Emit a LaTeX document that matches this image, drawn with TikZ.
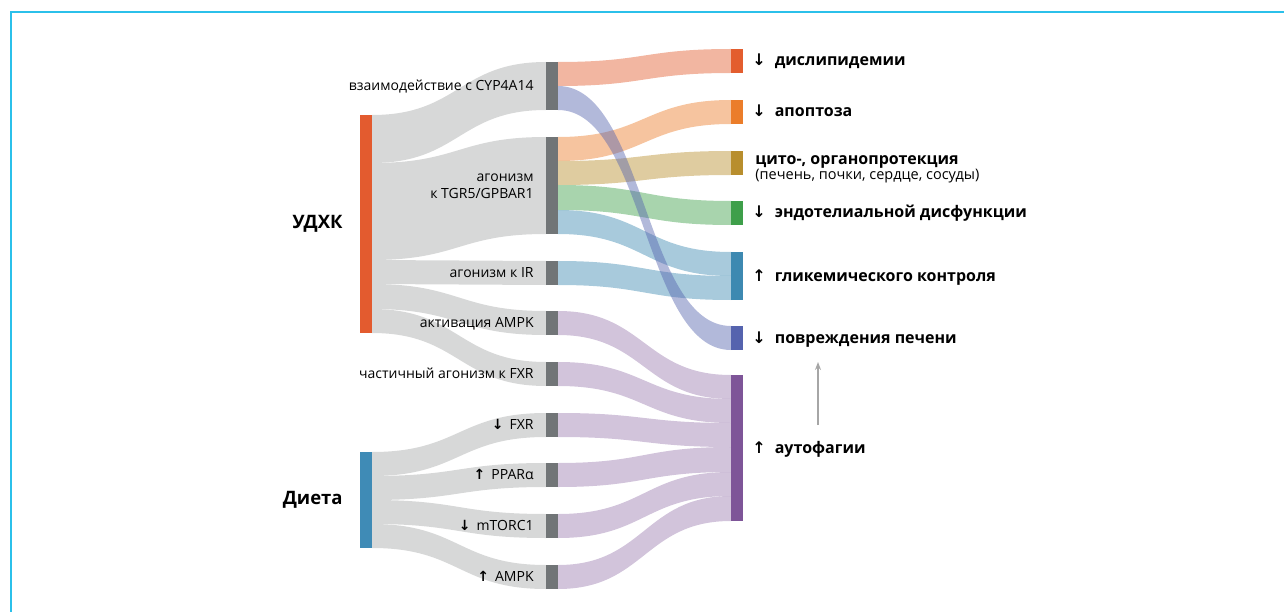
\documentclass[tikz,border=0pt]{standalone}
\usepackage{fontspec}
\setmainfont{Open Sans}
\newfontfamily\arrfont{DejaVu Sans}
\usetikzlibrary{positioning,arrows.meta}

\definecolor{udxkc}{HTML}{E35B2F}
\definecolor{dietc}{HTML}{3F8BB6}
\definecolor{midc}{HTML}{717577}
\definecolor{flowgrey}{HTML}{D7D8D8}
\definecolor{dysc}{HTML}{E35D2E}
\definecolor{apoc}{HTML}{EB7D2A}
\definecolor{cytoc}{HTML}{B88E2D}
\definecolor{endoc}{HTML}{3E9F4A}
\definecolor{glycc}{HTML}{3D89B1}
\definecolor{liverc}{HTML}{5563AE}
\definecolor{autoc}{HTML}{7E5598}
\definecolor{framec}{HTML}{2BC0EA}

\newcommand{\dn}{{\arrfont\bfseries ↓}}
\newcommand{\up}{{\arrfont\bfseries ↑}}
% полоса потока: стиль, x1, y1 верх, y1 низ, x2, y2 верх, y2 низ
\newcommand{\band}[7]{%
  \fill[#1] (#2,#3) .. controls ({(#2+#5)/2},#3) and ({(#2+#5)/2},#6) .. (#5,#6)
    -- (#5,#7) .. controls ({(#2+#5)/2},#7) and ({(#2+#5)/2},#4) .. (#2,#4) -- cycle;}

\tikzset{
  bar/.style={rectangle, inner sep=0pt, minimum width=12pt, minimum height=24pt, fill=#1},
  greyflow/.style={fill=flowgrey},
  cflow/.style={fill=#1, fill opacity=0.45},
  pflow/.style={fill=autoc, fill opacity=0.35},
  midlab/.style={font=\fontsize{14}{16.5}\selectfont, inner sep=0pt, anchor=base east},
  reslab/.style={font=\fontsize{16}{19}\selectfont\bfseries, inner sep=0pt, anchor=base west},
  srclab/.style={font=\fontsize{18.5}{22}\selectfont\bfseries, inner sep=0pt, anchor=east},
  frame/.style={draw=framec, line width=1.5pt},
}

\begin{document}
\begin{tikzpicture}[x=1pt,y=-1pt]
\useasboundingbox (0,0) rectangle (1284,612);
% рамка
\draw[frame] (11,612) -- (11,12) -- (1284,12);

% потоки УДХК и Диета
\band{greyflow}{372}{115}{163}{546}{62}{110}
\band{greyflow}{372}{163}{260}{546}{137}{234}
\band{greyflow}{372}{260}{284}{546}{261}{285}
\band{greyflow}{372}{284}{309}{546}{311}{335}
\band{greyflow}{372}{309}{333}{546}{362}{386}
\band{greyflow}{372}{452}{476}{546}{413}{437}
\band{greyflow}{372}{476}{500}{546}{463}{487}
\band{greyflow}{372}{500}{524}{546}{514}{538}
\band{greyflow}{372}{524}{548}{546}{565}{589}

% потоки к эффектам
\band{cflow=dysc}{558}{62}{86}{731}{49}{73}
\band{cflow=apoc}{558}{137}{161}{731}{100}{124}
\band{cflow=cytoc}{558}{161}{185}{731}{151}{175}
\band{cflow=endoc}{558}{185}{210}{731}{201}{225}
\band{cflow=glycc}{558}{210}{234}{731}{252}{276}
\band{cflow=glycc}{558}{261}{285}{731}{276}{300}
\band{pflow}{558}{311}{335}{731}{375}{399}
\band{pflow}{558}{362}{386}{731}{399}{423}
\band{pflow}{558}{413}{437}{731}{423}{447}
\band{pflow}{558}{463}{487}{731}{447}{472}
\band{pflow}{558}{514}{538}{731}{472}{496}
\band{pflow}{558}{565}{589}{731}{496}{521}
\band{cflow=liverc}{558}{86}{110}{731}{326}{350}

% источники
\node[bar=udxkc, minimum height=218pt] (udxk) at (366,224) {};
\node[bar=dietc, minimum height=96pt] (diet) at (366,500) {};
\node[srclab, left=17pt of udxk] {УДХК};
\node[srclab, left=17pt of diet] {Диета};

% механизмы
\node[bar=midc, minimum height=48pt] (cyp) at (552,86) {};
\node[bar=midc, minimum height=97pt] (tgr) at (552,185.5) {};
\node[bar=midc] (ir) at (552,273) {};
\node[bar=midc] (ampk) at (552,323) {};
\node[bar=midc] (pfxr) at (552,374) {};
\node[bar=midc] (fxr) at (552,425) {};
\node[bar=midc] (ppar) at (552,475) {};
\node[bar=midc] (mtor) at (552,526) {};
\node[bar=midc] (ampkd) at (552,577) {};

\node[midlab] at ([xshift=-12pt,yshift=-4.5pt]cyp.west) {взаимодействие с CYP4A14};
\node[midlab, anchor=east, align=right] at ([xshift=-12pt,yshift=-1pt]tgr.west) {агонизм\\к TGR5/GPBAR1};
\node[midlab] at ([xshift=-12pt,yshift=-4.5pt]ir.west) {агонизм к IR};
\node[midlab] at ([xshift=-12pt,yshift=-4.5pt]ampk.west) {активация AMPK};
\node[midlab] at ([xshift=-12pt,yshift=-4.5pt]pfxr.west) {частичный агонизм к FXR};
\node[midlab] at ([xshift=-12pt,yshift=-4.5pt]fxr.west) {\dn\hspace{6pt}FXR};
\node[midlab] at ([xshift=-12pt,yshift=-4.5pt]ppar.west) {\up\hspace{6pt}PPARα};
\node[midlab] at ([xshift=-12pt,yshift=-4.5pt]mtor.west) {\dn\hspace{6pt}mTORC1};
\node[midlab] at ([xshift=-12pt,yshift=-4.5pt]ampkd.west) {\up\hspace{6pt}AMPK};

% эффекты
\node[bar=dysc] (dys) at (737,61) {};
\node[bar=apoc] (apo) at (737,112) {};
\node[bar=cytoc] (cyto) at (737,163) {};
\node[bar=endoc] (endo) at (737,213) {};
\node[bar=glycc, minimum height=48pt] (glyc) at (737,276) {};
\node[bar=liverc] (liver) at (737,338) {};
\node[bar=autoc, minimum height=146pt] (auto) at (737,448) {};

\node[reslab] (dysl) at ([xshift=9pt,yshift=-5pt]dys.east) {\dn\hspace{9pt}дислипидемии};
\node[reslab] (apol) at ([xshift=9pt,yshift=-5pt]apo.east) {\dn\hspace{9pt}апоптоза};
\node[reslab] (cytol) at ([xshift=12pt,yshift=-1.5pt]cyto.east) {цито-, органопротекция};
\node[midlab, font=\fontsize{14.5}{17}\selectfont, anchor=base west] (cytos) at ([xshift=12pt,yshift=-17pt]cyto.east) {(печень, почки, сердце, сосуды)};
\node[reslab] (endol) at ([xshift=9pt,yshift=-5pt]endo.east) {\dn\hspace{9pt}эндотелиальной дисфункции};
\node[reslab] (glycl) at ([xshift=9pt,yshift=-5pt]glyc.east) {\up\hspace{9pt}гликемического контроля};
\node[reslab] (liverl) at ([xshift=9pt,yshift=-5pt]liver.east) {\dn\hspace{9pt}повреждения печени};
\node[reslab] (autol) at ([xshift=9pt,yshift=-5pt]auto.east) {\up\hspace{9pt}аутофагии};

% стрелка от аутофагии
\coordinate (afrom) at (818,425);
\coordinate (ato) at (818,362);
\draw[-{Stealth[length=8pt,width=6pt]}, draw=gray!70, line width=1.5pt] (afrom) -- (ato);
\end{tikzpicture}
\end{document}
